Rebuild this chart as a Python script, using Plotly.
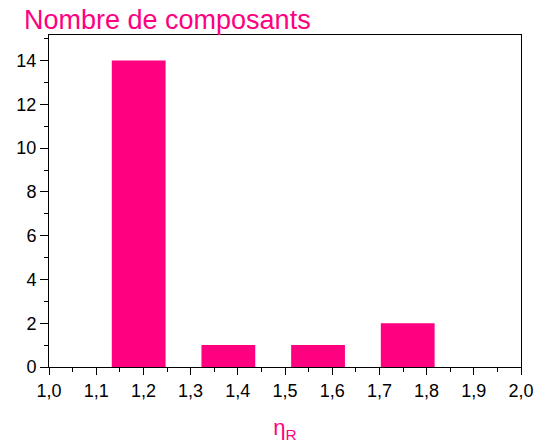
import plotly.graph_objects as go

# Histogram of component counts per eta_R class
bin_centers = [1.19, 1.38, 1.57, 1.76]
counts = [14, 1, 1, 2]
bar_width = 0.114

x_ticks = [1.0, 1.1, 1.2, 1.3, 1.4, 1.5, 1.6, 1.7, 1.8, 1.9, 2.0]
y_ticks = [0, 2, 4, 6, 8, 10, 12, 14]

PINK = "#FF0080"
FONT = "Liberation Sans, Arial, sans-serif"

fig = go.Figure(
    go.Bar(
        x=bin_centers,
        y=counts,
        width=bar_width,
        marker=dict(color=PINK, line=dict(width=0)),
    )
)

fig.update_layout(
    width=546,
    height=448,
    margin=dict(l=49, r=20, t=35, b=78),
    paper_bgcolor="white",
    plot_bgcolor="white",
    separators=", ",
    showlegend=False,
    font=dict(family=FONT, size=18, color="black"),
    annotations=[
        dict(
            text="Nombre de composants",
            font=dict(family=FONT, size=27, color=PINK),
            xref="paper",
            yref="paper",
            x=(23 - 49) / 477,
            y=1,
            xanchor="left",
            yanchor="bottom",
            yshift=-1,
            showarrow=False,
            borderpad=0,
        )
    ],
)

fig.update_xaxes(
    range=[1.0, 2.0],
    tickvals=x_ticks,
    tickformat=".1f",
    ticks="outside",
    ticklen=7,
    tickwidth=1,
    tickcolor="black",
    minor=dict(dtick=0.05, ticks="outside", ticklen=4, tickcolor="black", tickwidth=1),
    showline=True,
    linecolor="black",
    linewidth=1,
    mirror=True,
    showgrid=False,
    zeroline=False,
    title=dict(
        text="η<sub>R</sub>",
        font=dict(family=FONT, size=22, color=PINK),
        standoff=20,
    ),
)

fig.update_yaxes(
    range=[0, 15.17],
    tickvals=y_ticks,
    ticks="outside",
    ticklen=8,
    tickwidth=1,
    tickcolor="black",
    minor=dict(dtick=1, ticks="outside", ticklen=4, tickcolor="black", tickwidth=1),
    showline=True,
    linecolor="black",
    linewidth=1,
    mirror=True,
    showgrid=False,
    zeroline=False,
)

fig.write_html("out.html")
